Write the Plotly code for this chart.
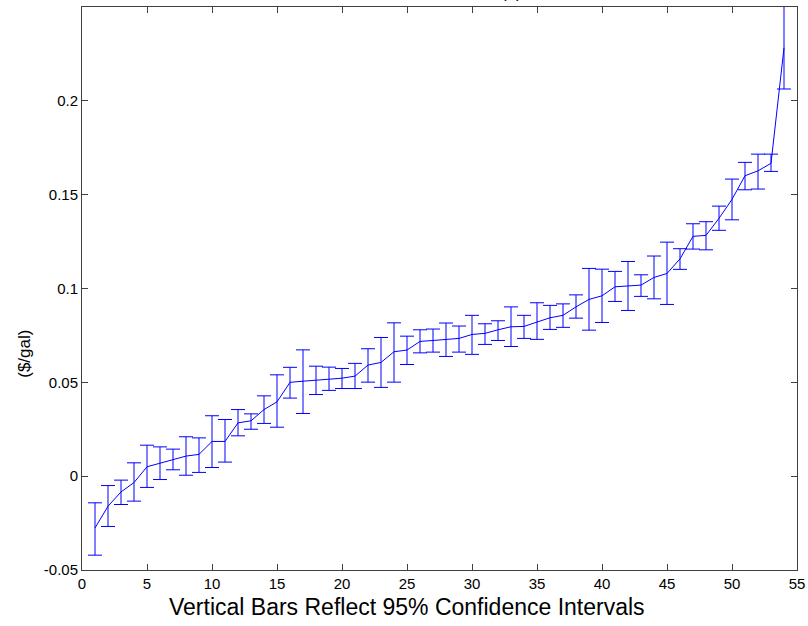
import plotly.graph_objects as go

x_index = list(range(1, 55))

estimate = [
    -0.0276, -0.0160, -0.0084, -0.0034, 0.0050, 0.0068, 0.0085, 0.0107, 0.0116, 0.0185,
    0.0185, 0.0284, 0.0295, 0.0355, 0.0396, 0.0500, 0.0506, 0.0512, 0.0517, 0.0522,
    0.0533, 0.0592, 0.0606, 0.0663, 0.0672, 0.0718, 0.0723, 0.0727, 0.0734, 0.0755,
    0.0761, 0.0780, 0.0796, 0.0798, 0.0822, 0.0844, 0.0857, 0.0902, 0.0942, 0.0961,
    0.1009, 0.1013, 0.1018, 0.1059, 0.1080, 0.1158, 0.1278, 0.1283, 0.1374, 0.1475,
    0.1601, 0.1627, 0.1667, 0.2283,
]

upper = [
    -0.0142, -0.0050, -0.0021, 0.0071, 0.0165, 0.0156, 0.0144, 0.0210, 0.0204, 0.0322,
    0.0302, 0.0355, 0.0332, 0.0428, 0.0540, 0.0580, 0.0673, 0.0586, 0.0581, 0.0574,
    0.0601, 0.0679, 0.0739, 0.0817, 0.0746, 0.0780, 0.0784, 0.0816, 0.0800, 0.0857,
    0.0812, 0.0828, 0.0902, 0.0857, 0.0924, 0.0910, 0.0918, 0.0966, 0.1107, 0.1103,
    0.1091, 0.1144, 0.1073, 0.1173, 0.1247, 0.1212, 0.1345, 0.1356, 0.1439, 0.1583,
    0.1672, 0.1716, 0.1716, 0.2503,
]

lower = [
    -0.0421, -0.0268, -0.0151, -0.0133, -0.0060, -0.0018, 0.0034, 0.0005, 0.0020, 0.0046,
    0.0075, 0.0215, 0.0250, 0.0281, 0.0261, 0.0416, 0.0334, 0.0435, 0.0457, 0.0467,
    0.0467, 0.0501, 0.0473, 0.0501, 0.0595, 0.0657, 0.0661, 0.0638, 0.0661, 0.0649,
    0.0702, 0.0723, 0.0691, 0.0734, 0.0729, 0.0782, 0.0793, 0.0842, 0.0778, 0.0819,
    0.0931, 0.0883, 0.0958, 0.0945, 0.0915, 0.1102, 0.1210, 0.1206, 0.1310, 0.1366,
    0.1526, 0.1530, 0.1624, 0.2063,
]

x_ticks = list(range(0, 56, 5))
y_tick_vals = [-0.05, 0, 0.05, 0.1, 0.15, 0.2]
y_tick_text = ["-0.05", "0", "0.05", "0.1", "0.15", "0.2"]

err_plus = [u - e for u, e in zip(upper, estimate)]
err_minus = [e - l for e, l in zip(estimate, lower)]

fig = go.Figure()
fig.add_trace(go.Scatter(
    x=x_index, y=estimate, mode="lines",
    line=dict(color="rgb(0,0,255)", width=1),
    error_y=dict(type="data", symmetric=False, array=err_plus, arrayminus=err_minus,
                 color="rgb(0,0,255)", thickness=1, width=7),
    showlegend=False, hoverinfo="skip",
))

axis_col = "#404040"
fig.update_layout(
    width=808, height=626,
    margin=dict(l=82, r=11, t=7, b=56),
    paper_bgcolor="white", plot_bgcolor="white",
    font=dict(family="Liberation Sans, Arial, sans-serif", color="black", size=15),
    xaxis=dict(
        range=[0, 55], tickvals=x_ticks, ticks="inside", ticklen=6, tickcolor=axis_col,
        showline=True, linecolor=axis_col, linewidth=1, mirror="ticks",
        showgrid=False, zeroline=False, automargin=False,
        tickfont=dict(size=15),
    ),
    yaxis=dict(
        range=[-0.05, 0.25], tickvals=y_tick_vals, ticktext=y_tick_text,
        ticks="inside", ticklen=6, tickcolor=axis_col,
        showline=True, linecolor=axis_col, linewidth=1, mirror="ticks",
        showgrid=False, zeroline=False, automargin=False,
        tickfont=dict(size=15),
    ),
)

# x-axis caption (offset left of centre, as in the reference)
fig.add_annotation(
    text="Vertical Bars Reflect 95% Confidence Intervals",
    xref="paper", yref="paper", x=0.4545, y=-0.065,
    xanchor="center", yanchor="middle", showarrow=False,
    font=dict(size=23, color="black"),
)
# y-axis caption
fig.add_annotation(
    text="($/gal)", xref="paper", yref="paper", x=-0.08, y=0.3837,
    xanchor="center", yanchor="middle", showarrow=False, textangle=-90,
    font=dict(size=17, color="black"),
)
# title, mostly cut off at the top edge as in the reference
fig.add_annotation(
    text="(a)", xref="paper", yref="paper", x=0.6, y=1.0053,
    xanchor="center", yanchor="bottom", showarrow=False,
    font=dict(size=17, color="black"),
)

fig.write_html("out.html", config={"displayModeBar": False},
               post_script="document.body.style.margin='0';")
